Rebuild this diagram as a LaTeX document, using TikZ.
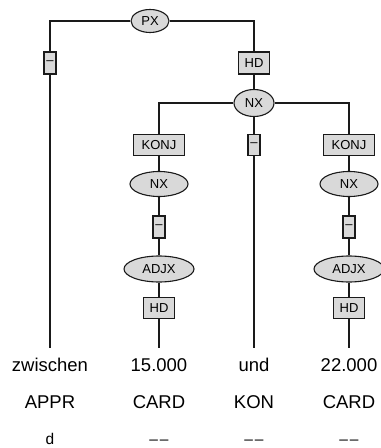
\documentclass[tikz,border=0pt]{standalone}
\usepackage{fontspec}
\setmainfont{Liberation Sans}
\usepackage{xcolor}
\definecolor{cLine}{HTML}{1A1A1A}
\definecolor{cFill}{HTML}{D9D9D9}
\usepackage{tikz}
\usetikzlibrary{positioning,shapes.geometric}
\tikzset{
  node-cat/.style={draw=cLine,line width=1.1bp,ellipse,fill=cFill,inner sep=0pt,
    minimum width=38bp,minimum height=23bp,font=\fontsize{13bp}{14bp}\selectfont},
  node-edge/.style={draw=cLine,line width=1.1bp,rectangle,fill=cFill,inner sep=0pt,
    minimum width=31bp,minimum height=21bp,font=\fontsize{13bp}{14bp}\selectfont},
  node-dash/.style={node-edge,minimum width=12bp,minimum height=22bp},
  node-word/.style={inner sep=0pt,font=\fontsize{18.5bp}{20bp}\selectfont},
  node-morph/.style={inner sep=0pt,font=\fontsize{15.5bp}{16bp}\selectfont},
  branch/.style={draw=cLine,line width=1.1bp},
}
\newcommand{\nomorph}{\textendash\kern1.8bp\textendash}

\begin{document}
\begin{tikzpicture}[x=1bp,y=-1bp]
  \useasboundingbox (0,0) rectangle (380,448);

  % Kategorien und Kanten
  \node[node-cat] (px) at (150,21) {PX};
  \node[node-dash] (dA) at (50,63) {--};
  \node[node-edge,minimum height=22bp] (hdT) at (254,63) {HD};
  \node[node-cat,minimum width=40bp,minimum height=27bp] (nxT) at (254,103) {NX};
  \node[node-edge,minimum width=51bp] (konjL) at (159,145) {KONJ};
  \node[node-dash,minimum height=21bp] (dM) at (254,145) {--};
  \node[node-edge,minimum width=51bp] (konjR) at (349,145) {KONJ};
  \foreach \col/\xx in {L/159,R/349}{
    \node[node-cat,minimum width=58bp,minimum height=25bp] (nx\col) at (\xx,184) {NX};
    \node[node-dash] (d\col) at (\xx,227) {--};
    \node[node-cat,minimum width=70bp,minimum height=26bp] (adjx\col) at (\xx,269) {ADJX};
    \node[node-edge] (hd\col) at (\xx,308) {HD};
  }

  % Terminale
  \coordinate (eA) at (50,348);
  \coordinate (eB) at (159,348);
  \coordinate (eC) at (254,348);
  \coordinate (eD) at (349,348);
  \node[node-word] (wA) at (50,365) {zwischen};
  \node[node-word] (wB) at (159,365) {15.000};
  \node[node-word] (wC) at (254,365) {und};
  \node[node-word] (wD) at (349,365) {22.000};
  \node[node-word] (tA) at (50,402) {APPR};
  \node[node-word] (tB) at (159,402) {CARD};
  \node[node-word] (tC) at (254,402) {KON};
  \node[node-word] (tD) at (349,402) {CARD};
  \node[node-morph,anchor=base] (mA) at (50,444) {d};
  \node[node-morph,anchor=base] (mB) at (159,444) {\nomorph};
  \node[node-morph,anchor=base] (mC) at (254,444) {\nomorph};
  \node[node-morph,anchor=base] (mD) at (349,444) {\nomorph};

  % Aeste
  \draw[branch] (px.west) -| (dA.north);
  \draw[branch] (dA.south) -- (eA);
  \draw[branch] (px.east) -| (hdT.north);
  \draw[branch] (hdT.south) -- (nxT.north);
  \draw[branch] (nxT.west) -| (konjL.north);
  \draw[branch] (nxT.east) -| (konjR.north);
  \draw[branch] (nxT.south) -- (dM.north);
  \draw[branch] (dM.south) -- (eC);
  \foreach \col in {L,R}{
    \draw[branch] (konj\col.south) -- (nx\col.north);
    \draw[branch] (nx\col.south) -- (d\col.north);
    \draw[branch] (d\col.south) -- (adjx\col.north);
    \draw[branch] (adjx\col.south) -- (hd\col.north);
  }
  \draw[branch] (hdL.south) -- (eB);
  \draw[branch] (hdR.south) -- (eD);
\end{tikzpicture}
\end{document}
